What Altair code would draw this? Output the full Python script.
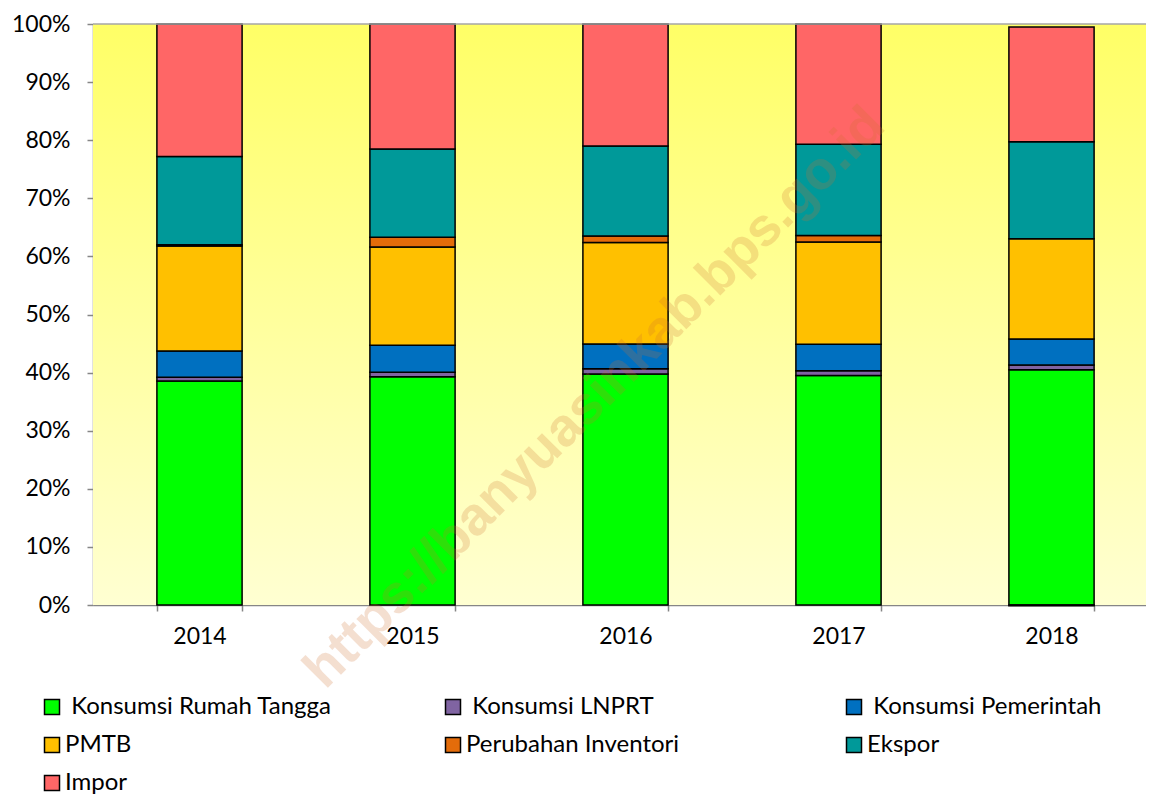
import altair as alt
import pandas as pd

years = ["2014", "2015", "2016", "2017", "2018"]
components = ["Konsumsi Rumah Tangga", "Konsumsi LNPRT", "Konsumsi Pemerintah",
              "PMTB", "Perubahan Inventori", "Ekspor", "Impor"]
colors = ["#00FF00", "#8064A2", "#0070C0", "#FFC000", "#E46C0A", "#009999", "#FF6666"]

rumah_tangga = [38.55, 39.3, 39.76, 39.5, 40.5]
lnprt = [0.65, 0.75, 0.9, 0.8, 0.8]
pemerintah = [4.5, 4.65, 4.25, 4.6, 4.5]
pmtb = [18.1, 16.9, 17.5, 17.6, 17.25]
inventori = [0.2, 1.7, 1.1, 1.1, -0.15]
ekspor = [15.2, 15.2, 15.5, 15.7, 16.7]
impor = [22.8, 21.5, 21.0, 20.7, 19.75]
y_ticks = [0, 10, 20, 30, 40, 50, 60, 70, 80, 90, 100]

series = [rumah_tangga, lnprt, pemerintah, pmtb, inventori, ekspor, impor]
rows = []
for k, (name, vals) in enumerate(zip(components, series)):
    for yr, v in zip(years, vals):
        rows.append({"tahun": yr, "komponen": name, "nilai": v, "urutan": k})
df = pd.DataFrame(rows)

FONT = "Lato"
W, H = 1053, 581

x_enc = alt.X("tahun:N",
              scale=alt.Scale(domain=years, range=[0, 1065], paddingInner=0.6, paddingOuter=0.3),
              axis=alt.Axis(title=None, labelAngle=0, tickBand="extent", ticks=True, tickSize=6,
                            labelPadding=14, domainColor="#868686", domainWidth=1.5,
                            tickColor="#868686", tickWidth=1.5, labelFontSize=23, labelFont=FONT,
                            labelColor="black", grid=False))
y_enc = alt.Y("nilai:Q", stack="zero",
              scale=alt.Scale(domain=[0, 100], nice=False),
              axis=alt.Axis(title=None, values=y_ticks, labelExpr="datum.value + '%'",
                            tickSize=6, labelPadding=17, domainColor="#868686", domainWidth=1.5,
                            tickColor="#868686", tickWidth=1.5, labelFontSize=23, labelFont=FONT,
                            labelColor="black", grid=False))

bg = alt.Chart(pd.DataFrame({"k": [0]})).mark_rect(
    color=alt.LinearGradient(gradient="linear", x1=0, y1=0, x2=0, y2=1,
                             stops=[alt.GradientStop(color="#FFFF66", offset=0),
                                    alt.GradientStop(color="#FFFFD2", offset=1)])
).encode(x=alt.value(0), x2=alt.value(W), y=alt.value(0), y2=alt.value(H))

bars = alt.Chart(df).mark_bar(stroke="black", strokeWidth=1.5).encode(
    x=x_enc,
    y=y_enc,
    color=alt.Color("komponen:N",
                    scale=alt.Scale(domain=components, range=colors),
                    legend=alt.Legend(title=None, orient="none", legendX=-53, legendY=671,
                                      direction="horizontal",
                                      columns=3, gridAlign="all", columnPadding=109,
                                      rowPadding=14, symbolType="square", symbolSize=225,
                                      symbolStrokeColor="black", symbolStrokeWidth=1.5,
                                      symbolOpacity=1, labelFontSize=24, labelFont=FONT,
                                      labelColor="black", labelOffset=1, labelLimit=0,
                                      padding=0,
                                      labelExpr="indexof(datum.label, 'Konsumsi') == 0 ? '\u200b\u00a0' + datum.label : datum.label")),
    order=alt.Order("urutan:Q", sort="ascending"),
)

top_rule = alt.Chart(pd.DataFrame({"k": [0]})).mark_rule(color="#A6A6A6", strokeWidth=1.5).encode(
    x=alt.value(0), x2=alt.value(W), y=alt.value(0))

watermark = alt.Chart(pd.DataFrame({"k": [0]})).mark_text(
    text="https://banyuasinkab.bps.go.id", angle=315, fontSize=54, fontWeight="bold",
    font="Liberation Sans", color="#D07030", opacity=0.22
).encode(x=alt.value(502), y=alt.value(374))

chart = alt.layer(bg, bars, top_rule, watermark).properties(
    width=W, height=H,
    autosize=alt.AutoSizeParams(type="none"),
    padding={"left": 85, "top": 16, "right": 0, "bottom": 195},
).configure_view(stroke=None).configure(font=FONT)

chart.save("out.html", embed_options={"renderer": "svg", "actions": False})
